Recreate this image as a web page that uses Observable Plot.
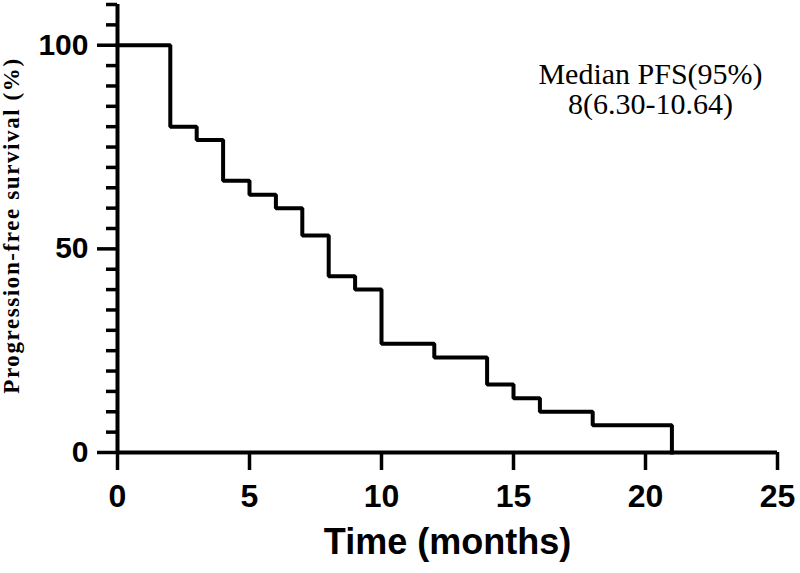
<!DOCTYPE html>
<html>
<head>
<meta charset="utf-8">
<script src="https://cdn.jsdelivr.net/npm/d3@7"></script>
<script src="https://cdn.jsdelivr.net/npm/@observablehq/plot@0.6"></script>
<style>
  html, body { margin: 0; padding: 0; background: #fff; }
  #chart svg { display: block; }
</style>
</head>
<body>
<div id="chart"></div>
<script>
// Kaplan–Meier step data
const months   = [0, 2, 3, 4, 5, 6, 7, 8, 9, 10, 12, 14, 15, 16, 18, 21];
const survival = [100, 80, 76.7, 66.7, 63.3, 60, 53.3, 43.3, 40, 26.7, 23.3, 16.7, 13.3, 10, 6.7, 0];

const xTicks = [0, 5, 10, 15, 20, 25];
const yMajorTicks = [0, 50, 100];
const yMinorTicks = [5, 10, 15, 20, 25, 30, 35, 40, 45, 55, 60, 65, 70, 75, 80, 85, 90, 95, 105, 110];

const xLabel = "Time (months)";
const yLabel = "Progression-free survival (%)";
const annotation = "Median PFS(95%)\n8(6.30-10.64)";

const data = months.map((t, i) => ({t, s: survival[i]}));
const sans = "'Liberation Sans', Arial, Helvetica, sans-serif";
const serif = "'Liberation Serif', 'Times New Roman', Times, serif";

const chart = Plot.plot({
  width: 800,
  height: 573,
  marginLeft: 117,
  marginRight: 23,
  marginTop: 4,
  marginBottom: 121,
  x: {domain: [0, 25]},
  y: {domain: [0, 110]},
  marks: [
    Plot.axisX(xTicks, {tickSize: 18, tickPadding: 14, fontSize: 32, fontWeight: "bold", fontFamily: sans, strokeWidth: 3.5, label: null, fill: "#000", stroke: "#000"}),
    Plot.axisY(yMajorTicks, {tickSize: 20, tickPadding: 9, fontSize: 30, fontWeight: "bold", fontFamily: sans, strokeWidth: 3.5, label: null, fill: "#000", stroke: "#000"}),
    Plot.axisY(yMinorTicks, {tickSize: 11, tickFormat: () => "", strokeWidth: 3.5, label: null, stroke: "#000"}),
    Plot.ruleY([0], {x1: 0, x2: 25, stroke: "#000", strokeWidth: 4}),
    Plot.ruleX([0], {y1: 0, y2: 110, stroke: "#000", strokeWidth: 4}),
    Plot.line(data, {x: "t", y: "s", curve: "step-after", stroke: "#000", strokeWidth: 4, strokeLinejoin: "miter", strokeLinecap: "square"}),
    Plot.text([yLabel], {frameAnchor: "left", dx: -106, dy: -3, rotate: -90, fontFamily: serif, fontWeight: "bold", fontSize: 23, lineAnchor: "middle", textAnchor: "middle", fill: "#000"}),
    Plot.text([xLabel], {frameAnchor: "bottom", dy: 90, fontFamily: sans, fontWeight: "bold", fontSize: 36, lineAnchor: "middle", textAnchor: "middle", fill: "#000"}),
    Plot.text([annotation], {frameAnchor: "top-right", dx: -127, dy: 85, fontFamily: serif, fontSize: 30, lineHeight: 1.0, lineAnchor: "middle", textAnchor: "middle", fill: "#000"})
  ]
});
d3.select(chart).selectAll("text")
  .filter(function() { return this.textContent === yLabel; })
  .attr("letter-spacing", "1.6px");
document.getElementById("chart").appendChild(chart);
</script>
</body>
</html>
